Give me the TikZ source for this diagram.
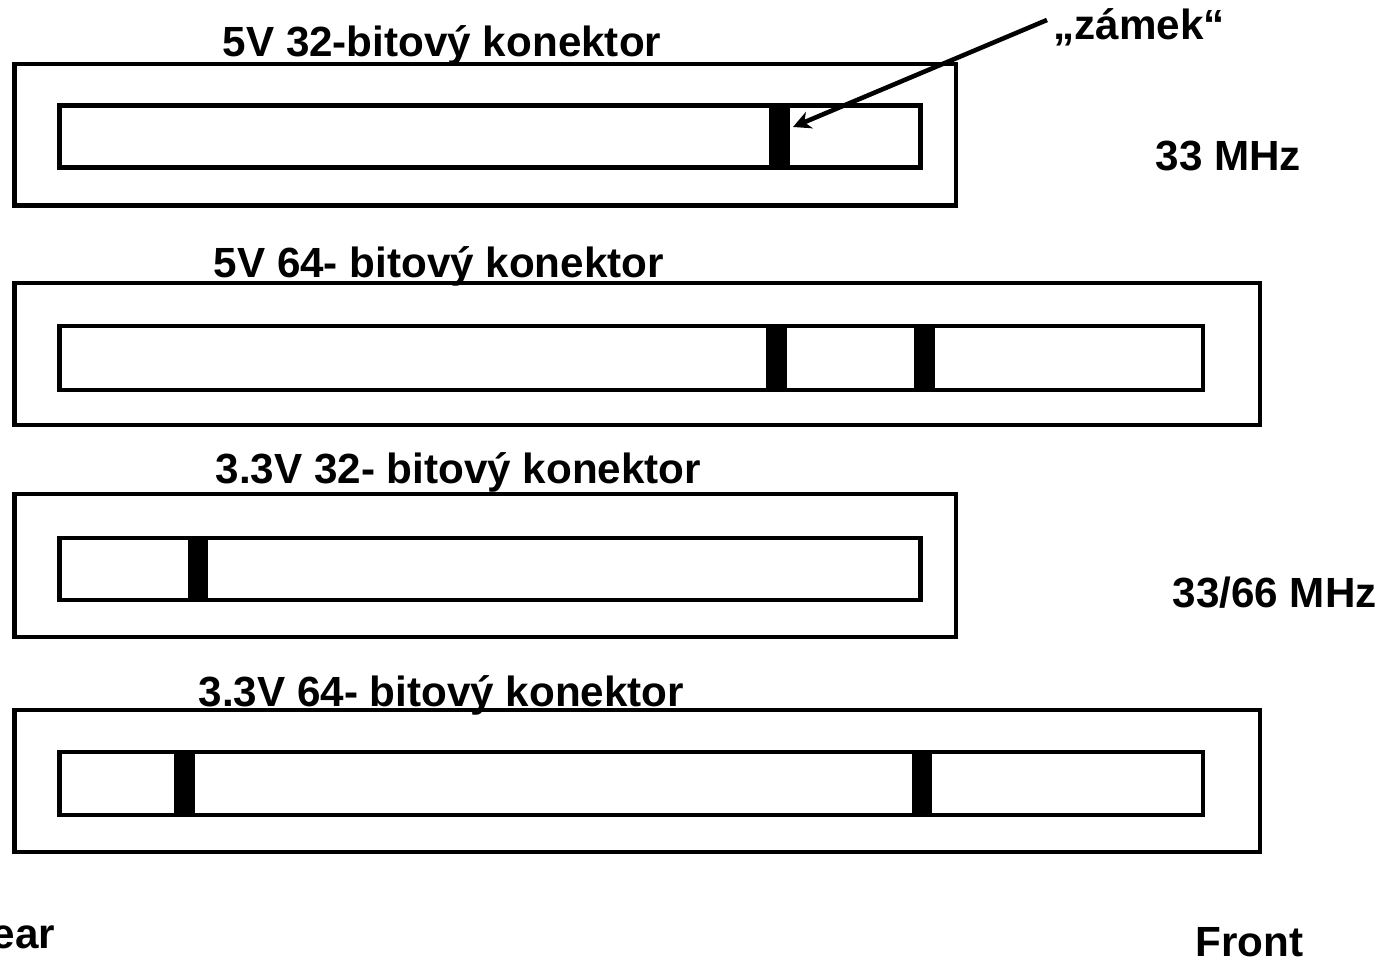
\documentclass[tikz,border=0pt]{standalone}
\usepackage{fontspec}
\setmainfont{Liberation Sans}
\usetikzlibrary{arrows.meta, positioning}

\begin{document}
\begin{tikzpicture}[x=0.01cm, y=-0.01cm,
    box/.style={draw, line width=1.3pt},
    lock/.style={fill=black},
    lbl/.style={font=\fontsize{12}{14}\selectfont\bfseries, inner sep=0pt, anchor=base west}]
                \useasboundingbox (0,0) rectangle (1388,962);

                % 5V 32-bit
                \draw[box] (14.5,64) rectangle (956,205.5);
                \draw[box] (59.7,105.5) rectangle (920.5,167.5);
                \fill[lock] (769,105.5) rectangle (790,167.5);
                \node[lbl] (t1) at (222,57) {5V 32-bitový konektor};

                % 5V 64-bit
                \draw[box] (14.5,283) rectangle (1260,425);
                \draw[box] (59.7,326) rectangle (1203,390);
                \fill[lock] (766,326) rectangle (787,390);
                \fill[lock] (914,326) rectangle (935,390);
                \node[lbl] (t2) at (213,278) {5V 64- bitový konektor};

                % 3.3V 32-bit
                \draw[box] (14.5,494) rectangle (956,637);
                \draw[box] (59.7,538) rectangle (920.5,600);
                \fill[lock] (188,538) rectangle (208,600);
                \node[lbl] (t3) at (215,484) {3.3V 32- bitový konektor};

                % 3.3V 64-bit
                \draw[box] (14.5,710) rectangle (1260,852);
                \draw[box] (59.7,752) rectangle (1203,815);
                \fill[lock] (174,752) rectangle (195,815);
                \fill[lock] (912,752) rectangle (932,815);
                \node[lbl] (t4) at (198,707) {3.3V 64- bitový konektor};

                % Frequencies
                \node[lbl] (f1) at (1155,171) {33 MHz};
                \node[lbl] (f2) at (1172,608) {33/66 MHz};

                % Sides
                \node[lbl, anchor=base east] (rear) at (56,949) {Rear};
                \node[lbl] (front) at (1195,957) {Front};

                % Key
                \node[lbl] (zamek) at (1053,40) {„zámek“};
                \coordinate (tail) at (1047,20);
                \coordinate (key) at (793,127);
                \draw[line width=1.3pt, -{Stealth[length=5pt, width=5pt, inset=1.5pt]}] (tail) -- (key);
            \end{tikzpicture}
\end{document}
